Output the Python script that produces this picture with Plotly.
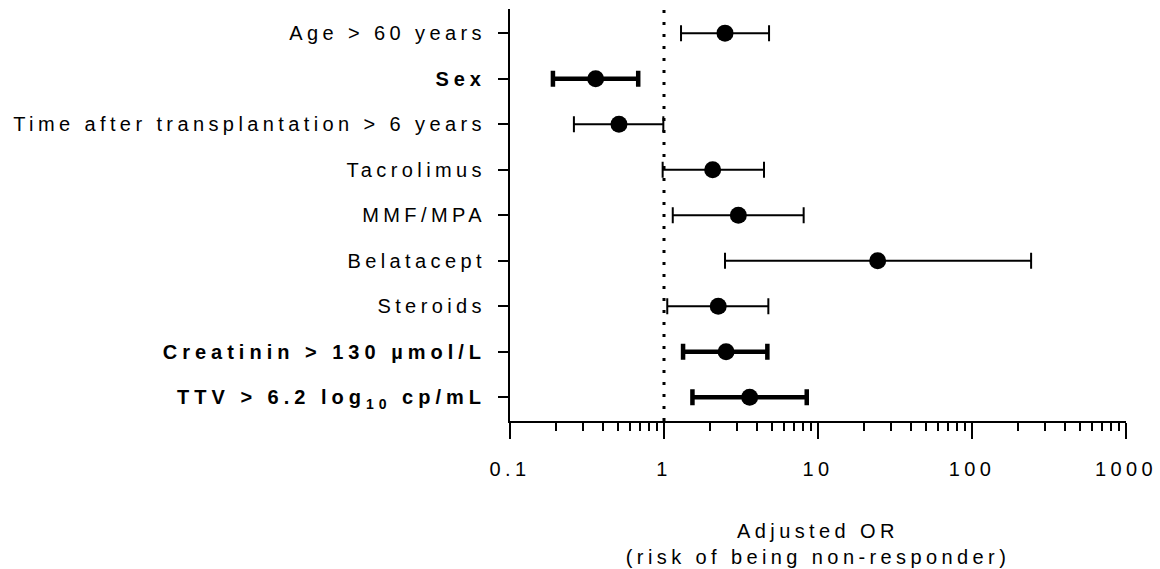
import plotly.graph_objects as go

# Covariates in plotting order (top to bottom)
labels = [
    "Age > 60 years",
    "Sex",
    "Time after transplantation > 6 years",
    "Tacrolimus",
    "MMF/MPA",
    "Belatacept",
    "Steroids",
    "Creatinin > 130 µmol/L",
    "TTV > 6.2 log<sub>10</sub> cp/mL",
]
significant = [False, True, False, False, False, False, False, True, True]

# Adjusted odds ratios with 95% confidence limits
odds_ratio = [2.49, 0.36, 0.51, 2.07, 3.04, 24.4, 2.25, 2.53, 3.60]
ci_low = [1.29, 0.19, 0.26, 0.98, 1.14, 2.49, 1.05, 1.33, 1.53]
ci_high = [4.81, 0.68, 0.99, 4.46, 8.07, 242.0, 4.76, 4.69, 8.45]

x_ticks = [0.1, 1, 10, 100, 1000]
x_tick_labels = ["0.1", "1", "10", "100", "1000"]

FONT = "Arial, Liberation Sans, sans-serif"

fig = go.Figure()


def add_group(flag, thickness):
    idx = [i for i, s in enumerate(significant) if s == flag]
    fig.add_trace(go.Scatter(
        x=[odds_ratio[i] for i in idx],
        y=[i for i in idx],
        mode="markers",
        marker=dict(symbol="circle", size=17, color="black"),
        error_x=dict(
            type="data",
            symmetric=False,
            array=[ci_high[i] - odds_ratio[i] for i in idx],
            arrayminus=[odds_ratio[i] - ci_low[i] for i in idx],
            color="black",
            thickness=thickness,
            width=8,
        ),
        showlegend=False,
        hoverinfo="skip",
    ))


add_group(False, 2)
add_group(True, 4.5)

# Line of no effect (OR = 1)
fig.add_shape(
    type="line", xref="x", yref="paper", x0=1, x1=1, y0=0, y1=1,
    line=dict(color="black", width=3, dash="3px,9px"), layer="below",
)

tick_text = [f"<b>{t}</b>" if s else t for t, s in zip(labels, significant)]
minor_vals = [m * 10 ** e for e in range(-1, 3) for m in range(2, 10)]

fig.update_layout(
    width=1160,
    height=569,
    margin=dict(l=510, r=34, t=9, b=148),
    paper_bgcolor="white",
    plot_bgcolor="white",
    font=dict(family=FONT, size=20, color="black"),
    xaxis=dict(
        type="log",
        range=[-1, 3],
        automargin=False,
        tickvals=x_ticks,
        ticktext=x_tick_labels,
        ticks="outside",
        ticklen=16,
        tickwidth=2,
        tickcolor="black",
        showline=True,
        linewidth=2,
        linecolor="black",
        showgrid=False,
        zeroline=False,
        ticklabelstandoff=13,
        minor=dict(tickvals=minor_vals, ticks="outside", ticklen=8,
                   tickwidth=2, tickcolor="black", showgrid=False),
        title=dict(text="Adjusted OR<br>(risk of being non-responder)",
                   standoff=45, font=dict(size=20)),
    ),
    yaxis=dict(
        range=[8.52, -0.53],
        automargin=False,
        tickvals=list(range(len(labels))),
        ticktext=tick_text,
        ticks="outside",
        ticklen=10,
        tickwidth=2,
        tickcolor="black",
        showline=True,
        linewidth=2,
        linecolor="black",
        showgrid=False,
        zeroline=False,
        ticklabelstandoff=8,
    ),
)

# Widen character spacing of the axis texts (bold labels a little more)
spacing_js = """
var gd = document.getElementById('{plot_id}');
function widen() {
  gd.querySelectorAll('.ytick text, .xtick text, .xtitle').forEach(function (t) {
    var bold = t.querySelector('tspan[style*="bold"]');
    t.style.letterSpacing = bold ? '5px' : '4.4px';
  });
}
widen();
gd.on('plotly_afterplot', widen);
"""

fig.write_html("out.html", post_script=spacing_js)
